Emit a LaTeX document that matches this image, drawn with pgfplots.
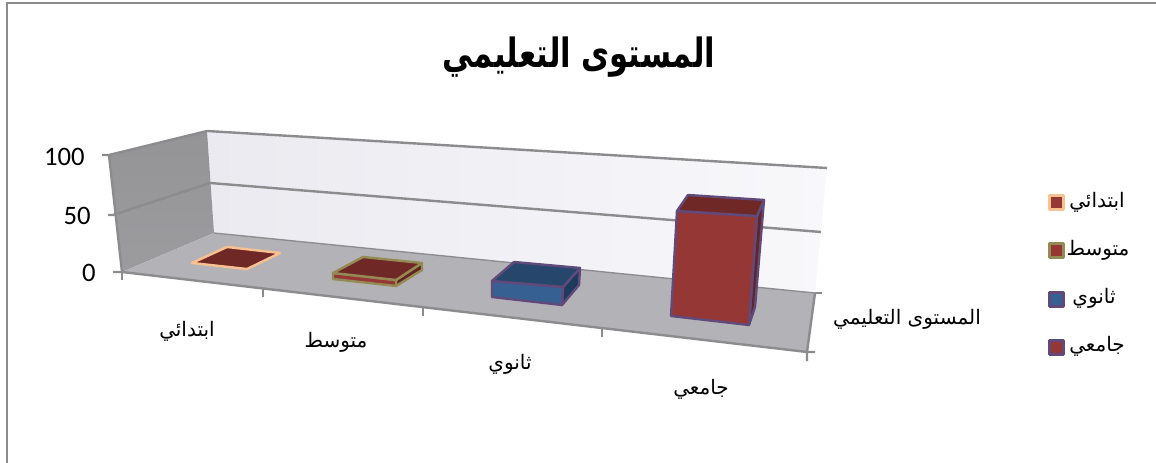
\documentclass[border=0pt]{standalone}
\usepackage{pgfplots}
\pgfplotsset{compat=1.18}
\usepackage{fontspec}
\setmainfont{Carlito}
\TeXXeTstate=1
\newfontfamily\arabicfont[Script=Arabic]{DejaVu Sans}
\newfontfamily\arabicbold[Script=Arabic]{DejaVu Sans Bold}
\definecolor{edgegrey}{HTML}{8C8C8E}
\definecolor{framegrey}{HTML}{8C8C8C}
\definecolor{floorgrey}{HTML}{B3B2B6}
\definecolor{wallleft}{HTML}{EBEAF0}
\definecolor{wallright}{HTML}{F8F8FB}
\definecolor{sidetop}{HTML}{949497}
\definecolor{sidebottom}{HTML}{9C9C9F}
\definecolor{redfront}{HTML}{953735}
\definecolor{redtop}{HTML}{6F2826}
\definecolor{redside}{HTML}{632523}
\definecolor{bluefront}{HTML}{376092}
\definecolor{bluetop}{HTML}{27466C}
\definecolor{blueside}{HTML}{1F3B5C}
\definecolor{peach}{HTML}{FAC090}
\definecolor{olive}{HTML}{948A54}
\definecolor{violet}{HTML}{604A7B}
% filled polygon: fill, outline, points
\newcommand{\facet}[3]{\addplot[fill=#1,draw=#2,line width=1.8pt,line join=round] coordinates {#3} --cycle;}
% square legend key: fill, outline, points
\newcommand{\legendkey}[3]{\addplot[fill=#1,draw=#2,line width=2.25pt,line join=round] coordinates {#3} --cycle;}
% straight edge: points
\newcommand{\edge}[1]{\addplot[draw=edgegrey,line width=1.8pt] coordinates {#1};}
% condensed Arabic label
\newcommand{\arsize}{\fontsize{15}{18}\arabicfont}
\begin{document}
\begin{tikzpicture}
\begin{axis}[
  width=867pt, height=347.25pt, scale only axis,
  xmin=0, xmax=1156, ymin=0, ymax=463, y dir=reverse,
  hide axis, no markers, clip=true,
]
% page and outer frame
\addplot[fill=white,draw=none] coordinates {(0,0) (1156,0) (1156,463) (0,463)} --cycle;
\addplot[draw=framegrey,line width=1.5pt] coordinates {(7,463) (7,3) (1156,3)};

% walls and floor
\addplot[left color=wallleft,right color=wallright,draw=none]
  coordinates {(207,131) (827,168) (815,293) (214,233)} --cycle;
\addplot[top color=sidetop,bottom color=sidebottom,draw=none]
  coordinates {(207,131) (109,155) (122,272) (214,233)} --cycle;
\addplot[fill=floorgrey,draw=none]
  coordinates {(214,233) (815,293) (807,352) (122,272)} --cycle;

% gridlines and edges
\edge{(102,155) (109,155) (207,131) (827,168)}
\edge{(108,215) (113,215) (210,183) (821,232)}
\edge{(109,155) (122,272)}
\addplot[draw=edgegrey,line width=1pt] coordinates {(214,233) (815,293)};
\edge{(815,293) (822,293)}
\edge{(113,272) (122,272) (807,352) (815,352)}
\edge{(815,293) (807,352) (807,361)}
% category ticks
\edge{(122,272) (122,280)}
\edge{(263,289) (263,297)}
\edge{(423,308) (423,316)}
\edge{(602,329) (602,337)}

% first bar
\facet{redtop}{peach}{(227,247) (280,253) (247,269) (192,263)}

% second bar
\facet{redside}{olive}{(396,280) (422,263) (422,270) (396,286)}
\facet{redfront}{olive}{(333,273) (396,280) (396,286) (333,279)}
\facet{redtop}{olive}{(363,257) (422,263) (396,280) (333,273)}

% third bar
\facet{blueside}{violet}{(563,287) (580,268) (579,285) (562,305)}
\facet{bluefront}{violet}{(492,281) (563,287) (562,305) (492,297)}
\facet{bluetop}{violet}{(514,262) (580,268) (563,287) (492,281)}

% fourth bar
\facet{redside}{violet}{(757,216) (764,200) (755,307) (749,325)}
\facet{redfront}{violet}{(677,211) (757,216) (749,325) (671,316)}
\facet{redtop}{violet}{(688,195) (764,200) (757,216) (677,211)}

% legend keys
\legendkey{redfront}{peach}{(1049.5,195.5) (1063.5,195.5) (1063.5,209.5) (1049.5,209.5)}
\legendkey{redfront}{olive}{(1049.5,243.5) (1063.5,243.5) (1063.5,257.5) (1049.5,257.5)}
\legendkey{bluefront}{violet}{(1049.5,292.5) (1063.5,292.5) (1063.5,306.5) (1049.5,306.5)}
\legendkey{redfront}{violet}{(1049.5,340.5) (1063.5,340.5) (1063.5,354.5) (1049.5,354.5)}

% title
\node[inner sep=0pt] at (axis cs:579,57) {\scalebox{0.85}[1.12]{\fontsize{27}{32}\arabicbold\beginR المستوى التعليمي\endR}};

% value axis labels
\node[anchor=east,inner sep=0pt,font=\fontsize{20}{24}\selectfont] at (axis cs:85,157) {100};
\node[anchor=east,inner sep=0pt,font=\fontsize{20}{24}\selectfont] at (axis cs:91,216) {50};
\node[anchor=east,inner sep=0pt,font=\fontsize{20}{24}\selectfont] at (axis cs:96,273) {0};

% category labels
\node[inner sep=0pt] at (axis cs:187,331) {\arsize\beginR ابتدائي\endR};
\node[inner sep=0pt] at (axis cs:336,342) {\arsize\beginR متوسط\endR};
\node[inner sep=0pt] at (axis cs:510,364) {\arsize\beginR ثانوي\endR};
\node[inner sep=0pt] at (axis cs:701,389) {\arsize\beginR جامعي\endR};
\node[inner sep=0pt] at (axis cs:907,319) {\arsize\beginR المستوى التعليمي\endR};

% legend labels
\node[inner sep=0pt] at (axis cs:1097,202) {\arsize\beginR ابتدائي\endR};
\node[inner sep=0pt] at (axis cs:1098,250) {\arsize\beginR متوسط\endR};
\node[inner sep=0pt] at (axis cs:1094,298) {\arsize\beginR ثانوي\endR};
\node[inner sep=0pt] at (axis cs:1097,346) {\arsize\beginR جامعي\endR};
\end{axis}
\end{tikzpicture}
\end{document}
